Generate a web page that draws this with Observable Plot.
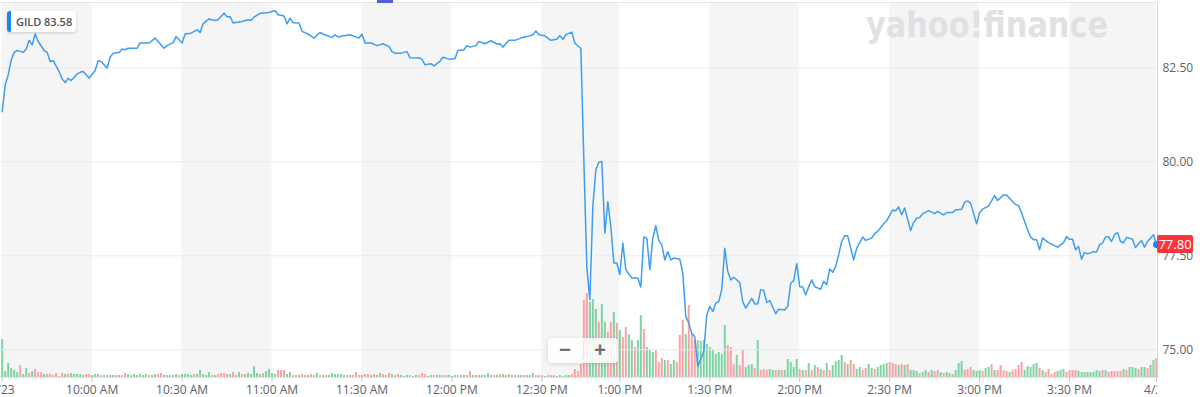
<!DOCTYPE html>
<html><head><meta charset="utf-8">
<script src="https://cdn.jsdelivr.net/npm/d3@7"></script>
<script src="https://cdn.jsdelivr.net/npm/@observablehq/plot@0.6"></script>
<style>
body{margin:0;background:#fff;}
#wrap{position:relative;width:1200px;height:397px;overflow:hidden;font-family:"Open Sans",sans-serif;}
#wrap > svg, #wrap > div{position:absolute;}
</style></head><body><div id="wrap"></div><script>
const symbol = "GILD";
const headerValue = "83.58";
const lastPrice = 77.80;
const tickIdx = [0,30,60,90,120,150,180,206,236,266,296,326,356,385];
const tickLabels = ["4/23","10:00 AM","10:30 AM","11:00 AM","11:30 AM","12:00 PM","12:30 PM","1:00 PM","1:30 PM","2:00 PM","2:30 PM","3:00 PM","3:30 PM","4/24"];
const priceTicks = [75, 77.5, 80, 82.5];
const priceIdx = [0,1,2,3,4,5,7,8,9,10,11,12,14,15,16,17,19,20,21,22,23,24,25,26,27,29,31,32,33,35,36,37,39,40,41,42,45,46,49,51,52,54,55,57,58,60,61,63,65,66,67,69,71,72,74,75,76,77,80,82,83,84,86,89,90,91,92,94,95,96,97,99,100,102,104,106,107,110,111,112,114,116,119,120,121,123,125,127,129,130,131,133,135,136,139,140,141,143,144,146,147,149,151,152,154,155,156,158,159,161,163,165,166,167,169,171,173,175,177,178,179,181,183,185,186,187,188,190,191,192,193,194,195,196,197,198,199,200,201,202,203,204,205,206,207,208,210,212,213,214,215,216,217,218,219,220,221,222,223,224,226,227,228,229,230,231,232,234,235,236,237,238,239,240,241,242,243,244,246,247,248,250,251,252,253,254,255,256,258,259,261,262,263,264,265,266,267,268,269,270,271,273,274,275,276,277,278,279,280,281,282,284,285,287,288,290,291,292,294,295,297,298,299,300,301,303,304,305,306,307,309,311,312,314,315,317,318,320,321,322,323,325,326,327,329,331,332,334,335,336,338,339,340,342,343,344,345,346,347,349,351,352,354,355,356,357,358,359,360,361,362,364,365,366,367,368,369,370,371,372,373,374,375,377,378,380,381,382,384,385];
const priceVal = [81.33,82.05,82.31,82.71,82.91,82.96,82.91,83.00,83.23,83.11,83.40,83.20,82.96,82.91,82.67,82.69,82.40,82.20,82.11,82.22,82.16,82.24,82.34,82.38,82.40,82.23,82.43,82.69,82.67,82.49,82.78,82.89,82.91,83.00,82.98,83.02,83.02,83.16,83.16,83.29,83.20,83.02,83.09,83.17,83.33,83.16,83.40,83.42,83.51,83.44,83.67,83.80,83.76,83.78,83.95,83.86,83.86,83.69,83.73,83.78,83.76,83.85,83.95,83.97,84.00,84.02,83.91,83.88,83.67,83.82,83.70,83.69,83.47,83.40,83.29,83.44,83.40,83.31,83.38,83.32,83.35,83.38,83.29,83.40,83.16,83.16,83.09,83.14,83.07,82.93,82.89,82.89,82.93,82.77,82.76,82.73,82.58,82.61,82.55,82.67,82.78,82.73,82.74,82.96,82.98,83.09,83.05,83.09,83.20,83.14,83.22,83.13,83.14,83.05,83.23,83.23,83.29,83.33,83.38,83.48,83.38,83.35,83.23,83.26,83.35,83.26,83.38,83.45,83.16,83.08,83.02,80.05,77.18,76.33,78.81,79.79,79.99,80.01,78.10,78.94,78.28,77.31,77.31,77.00,77.84,77.13,76.91,76.91,76.67,78.00,77.97,77.13,77.97,78.30,77.91,77.79,77.39,77.61,77.39,77.44,77.41,77.04,75.89,75.71,75.44,75.35,74.56,74.95,75.93,76.15,76.02,76.24,76.28,76.60,77.70,77.08,76.86,76.93,76.79,76.28,76.11,76.37,76.22,76.22,76.60,76.58,76.26,76.31,75.96,76.08,76.06,76.15,76.77,76.84,77.29,76.68,76.67,76.46,76.68,76.86,76.68,76.61,76.82,76.73,77.15,77.06,77.22,77.53,77.88,78.03,78.03,77.39,77.70,78.00,77.91,77.97,78.09,78.15,78.35,78.43,78.72,78.70,78.80,78.59,78.77,78.17,78.39,78.50,78.52,78.62,78.70,78.62,78.68,78.59,78.65,78.65,78.72,78.74,78.92,78.96,78.90,78.35,78.65,78.74,78.83,79.10,78.97,79.12,79.12,79.03,78.86,78.83,78.64,78.19,78.00,77.93,77.93,77.66,77.97,77.85,77.77,77.73,77.85,78.01,77.94,77.94,77.66,77.75,77.41,77.59,77.55,77.61,77.60,77.79,77.84,78.00,78.01,77.88,78.06,78.12,77.88,77.84,77.99,77.94,77.72,77.91,77.73,77.88,78.06,77.80];
// volume per minute, thousands of shares
const volume = [
380,60,140,90,70,50,120,30,90,40,
60,80,50,50,30,30,30,20,40,10,
40,30,30,40,30,30,30,20,30,30,
20,30,30,20,20,20,20,20,20,20,
20,40,30,20,30,20,30,20,30,20,
20,30,30,40,20,20,20,20,30,20,
30,30,30,20,30,30,70,30,20,50,
20,20,30,40,40,30,30,50,20,50,
30,30,40,30,110,40,30,40,60,80,
40,30,70,70,70,30,50,20,20,20,
30,20,20,30,20,40,20,20,20,20,
40,30,30,30,20,20,20,20,50,20,
20,30,30,20,30,20,40,30,20,40,
30,20,30,20,10,20,20,10,20,20,
40,30,10,20,20,20,20,20,20,20,
10,20,20,20,20,20,60,20,20,20,
20,20,40,20,20,20,30,30,20,30,
20,20,20,20,20,20,20,40,20,20,
20,10,20,20,20,10,20,10,20,20,
30,80,60,130,770,840,750,780,680,550,
730,550,450,550,650,540,470,400,500,430,
370,300,370,620,480,300,270,250,270,150,
190,170,170,130,170,150,420,570,430,720,
430,370,370,360,370,330,300,280,230,250,
230,520,320,300,130,220,120,280,100,120,
130,90,370,70,80,70,80,70,70,70,
70,70,180,150,100,180,80,70,70,140,
70,120,100,80,70,140,70,120,160,170,
220,150,130,170,130,80,100,70,90,130,
90,80,100,120,130,140,150,140,130,120,
130,120,130,70,70,60,40,50,70,50,
70,60,70,50,40,50,40,30,70,140,
160,70,80,100,70,60,70,60,90,100,
130,70,70,120,70,60,50,70,80,120,
150,70,110,100,130,140,90,70,50,80,
30,50,60,70,80,50,70,70,70,60,
50,50,50,50,50,70,60,70,70,50,
60,60,60,60,80,70,100,100,90,80,
100,100,90,120,170,190];
// u = price up in that minute, d = down
const volDir =
"uuuuuuduud"+"uddduddddu"+"duduuuuudd"+"uuududuudu"+"dduuuduuud"+
"uudduuuuud"+"uuuuduuuuu"+"dudddduddu"+"duuuuuuduu"+"uuddduuddu"+
"dduddududu"+"uuuuududdd"+"udduduuddd"+"udduuuduud"+"dduuduuddu"+
"uuduudduud"+"uuuududuud"+"uduuuduudd"+"dudduuuuuu"+"dddddduuud"+
"uuddududdu"+"uduuduuudd"+"duduudddud"+"dduuuuuuuu"+"uudddudduu"+
"ududdduudu"+"duuuuududu"+"dudududuuu"+"ududduuddu"+"uduuuudddu"+
"duduuuduud"+"udduduuduu"+"uddduuuduu"+"dudddduddd"+"duuuuududd"+
"dduuuddddu"+"uuuuuuudud"+"dddduduuud"+"uuduud";

const prices = priceIdx.map((i, k) => ({i, p: priceVal[k]}));
const vols = volume.map((v, i) => ({i, v, dir: volDir[i]}));
const bands = [];
for (let k = 0; k + 1 < tickIdx.length; k += 2) bands.push({start: tickIdx[k], end: tickIdx[k + 1]});

const xOpts = {type: "linear", domain: [0, 385], range: [1.7, 1156]};
const font = {fontFamily: '"Open Sans", sans-serif', fontSize: "12px", background: "transparent"};
const wrap = document.getElementById("wrap");

const base = Plot.plot({
  width: 1157, height: 397, marginTop: 2, marginBottom: 20, marginLeft: 0, marginRight: 0,
  x: xOpts,
  y: {domain: [0, 870], range: [377, 290], axis: null},
  color: {type: "ordinal", domain: ["u", "d"], range: ["#7fd3a3", "#f9a2a5"]},
  style: {...font, overflow: "hidden"},
  marks: [
    Plot.rect(bands, {x1: "start", x2: "end", fill: "#f5f5f5"}),
    Plot.ruleX(vols, {x: "i", y1: 0, y2: "v", stroke: "dir", strokeWidth: 2}),
    Plot.frame({anchor: "bottom", stroke: "#e4e4e4"}),
    Plot.axisX({ticks: tickIdx, tickFormat: d => tickLabels[tickIdx.indexOf(d)], tickSize: 5, tickPadding: 3, stroke: "#c9c9c9", fill: "#5b636a", label: null})
  ]
});
base.style.left = "0px"; base.style.top = "0px";
wrap.appendChild(base);

// watermark
const wm = d3.create("svg").attr("width", 1200).attr("height", 60).style("left", "0px").style("top", "0px");
wm.append("text").attr("x", 866).attr("y", 37).attr("textLength", 242).attr("lengthAdjust", "spacingAndGlyphs")
  .attr("font-family", "DejaVu Sans").attr("font-weight", "bold").attr("font-size", 36).attr("fill", "#dfe1e4")
  .text("yahoo!finance");
wrap.appendChild(wm.node());

const pricePlot = Plot.plot({
  width: 1200, height: 397, marginTop: 2, marginBottom: 20, marginLeft: 0, marginRight: 43,
  x: {...xOpts, axis: null},
  y: {domain: [75, 82.5], range: [349.3, 67.3], axis: null},
  style: font,
  marks: [
    Plot.ruleY(priceTicks, {stroke: "#ececec"}),
    Plot.frame({anchor: "top", stroke: "#e6e6e6"}),
    Plot.frame({anchor: "right", stroke: "#d6d6d6"}),
    Plot.axisY({anchor: "right", ticks: priceTicks, tickFormat: d3.format(".2f"), tickSize: 0, tickPadding: 5, fill: "#5b636a", label: null}),
    Plot.line(prices, {x: "i", y: "p", stroke: "#3d9df2", strokeWidth: 1.5}),
    Plot.dot([{i: 385, p: lastPrice}], {x: "i", y: "p", r: 3.5, fill: "#1687f5"})
  ]
});
pricePlot.style.left = "0px"; pricePlot.style.top = "0px";
wrap.appendChild(pricePlot);

// last price tag
const yS = pricePlot.scale("y");
const tag = document.createElement("div");
tag.textContent = lastPrice.toFixed(2);
Object.assign(tag.style, {left: "1157px", top: (yS.apply(lastPrice) - 9) + "px", width: "36px", height: "18px",
  background: "#ff333a", color: "#fff", fontSize: "13px", lineHeight: "18px", textAlign: "center", borderRadius: "2px"});
wrap.appendChild(tag);

// symbol label
const lab = document.createElement("div");
Object.assign(lab.style, {left: "7px", top: "11px", width: "69px", height: "21px", background: "#fff",
  borderRadius: "3px", boxShadow: "0 1px 3px rgba(0,0,0,0.18)", fontSize: "11px", lineHeight: "21px",
  color: "#4b5158", fontWeight: "600", whiteSpace: "nowrap"});
lab.innerHTML = '<span style="position:absolute;left:0;top:0;width:4px;height:21px;background:#1687f5;border-radius:3px 0 0 3px"></span>'
  + '<span style="position:absolute;left:9px;top:0">' + symbol + '</span>'
  + '<span style="position:absolute;left:37px;top:0">' + headerValue + '</span>';
wrap.appendChild(lab);

// zoom controls
const zc = document.createElement("div");
Object.assign(zc.style, {left: "548px", top: "338px", width: "70px", height: "25px", background: "rgba(255,255,255,0.85)",
  borderRadius: "4px", boxShadow: "0 1px 4px rgba(0,0,0,0.15)", color: "#6f6f6f", fontSize: "21px", fontWeight: "bold", lineHeight: "25px"});
zc.innerHTML = '<span style="position:absolute;left:11px;top:-1px">&#8722;</span><span style="position:absolute;left:35px;top:3px;width:1px;height:19px;background:#e6e6e6"></span><span style="position:absolute;left:46px;top:-1px">+</span>';
wrap.appendChild(zc);

// small top marker
const mk = document.createElement("div");
Object.assign(mk.style, {left: "377px", top: "0px", width: "16px", height: "3px", background: "#5161d1"});
wrap.appendChild(mk);
</script></body></html>
